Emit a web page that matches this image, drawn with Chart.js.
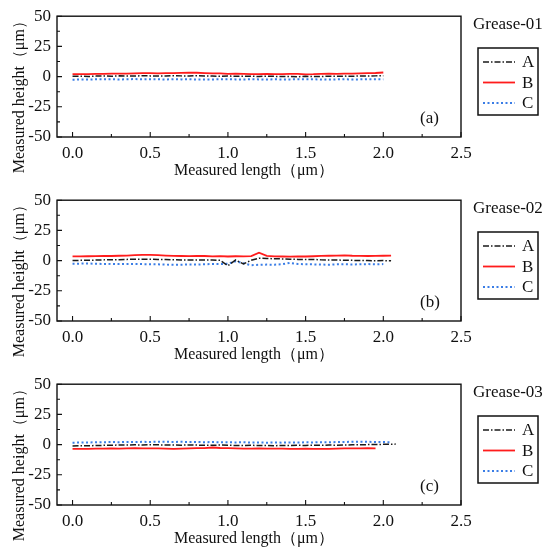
<!DOCTYPE html>
<html lang="en">
  <head>
    <meta charset="UTF-8" />
    <title>Measured height</title>
    <script src="https://cdn.jsdelivr.net/npm/chart.js"></script>
    <style>
      body { margin: 0; background: #fff; }
      .panel { width: 548px; height: 184px; }
    </style>
  </head>
  <body>
    <div class="panel"><canvas id="c1" width="548" height="184"></canvas></div>
    <div class="panel"><canvas id="c2" width="548" height="184"></canvas></div>
    <div class="panel"><canvas id="c3" width="548" height="184"></canvas></div>

    <script>
      // measured length positions (um)
      const lengths = [0, 0.05, 0.1, 0.15, 0.2, 0.25, 0.3, 0.35, 0.4, 0.45, 0.5, 0.55, 0.6, 0.65, 0.7, 0.75,
        0.8, 0.85, 0.9, 0.95, 1.0, 1.05, 1.1, 1.15, 1.2, 1.25, 1.3, 1.35, 1.4, 1.45, 1.5, 1.55,
        1.6, 1.65, 1.7, 1.75, 1.8, 1.85, 1.9, 1.95, 2.0, 2.05, 2.08];

      const xTicks = [0, 0.5, 1.0, 1.5, 2.0, 2.5];
      const yTicks = [-50, -25, 0, 25, 50];
      const seriesNames = ["A", "B", "C"];
      const panelNames = ["Grease-01", "Grease-02", "Grease-03"];
      const panelTags = ["(a)", "(b)", "(c)"];

      // Grease-01
      const g1A = [0.2, 0.3, 0.1, 0.4, 0.5, 0.3, 0.6, 0.4, 0.5, 0.7, 0.6, 0.4, 0.5, 0.8, 0.6, 0.5, 0.7, 0.6, 0.4, 0.3,
        0.5, 0.2, 0.4, 0.3, 0.1, 0.3, 0.2, 0.0, 0.1, -0.1, 0.2, 0.0, 0.1, 0.3, 0.2, 0.4, 0.3, 0.5, 0.4, 0.6, 0.8];
      const g1B = [2.0, 2.1, 2.0, 2.3, 2.2, 2.4, 2.5, 2.4, 2.6, 2.8, 2.9, 2.7, 2.8, 2.9, 3.1, 3.3, 3.2, 2.9, 2.7, 2.6,
        2.3, 2.4, 2.2, 2.1, 2.0, 2.2, 2.1, 2.0, 2.2, 2.3, 1.9, 2.0, 2.3, 2.4, 2.2, 2.5, 2.4, 2.6, 2.8, 3.0, 3.4];
      const g1C = [-2.6, -2.4, -2.5, -2.2, -2.3, -2.1, -2.4, -2.2, -2.0, -2.3, -2.1, -2.2, -2.4, -2.1, -2.3, -2.2,
        -2.5, -2.3, -2.4, -2.2, -2.1, -2.3, -2.4, -2.2, -2.3, -2.5, -2.2, -2.4, -2.3, -2.1, -2.3, -2.2, -2.4, -2.5,
        -2.3, -2.2, -2.4, -2.3, -2.1, -2.2, -2.3];

      // Grease-02
      const g2A = [0.0, 0.2, 0.3, 0.4, 0.6, 0.7, 0.8, 1.0, 1.1, 1.2, 1.1, 1.0, 0.9, 0.7, 0.6, 0.5, 0.6, 0.4, 0.5, 0.2,
        -4.2, 0.5, -2.8, 0.3, 2.0, 1.8, 1.5, 1.4, 1.2, 1.0, 0.9, 1.0, 0.6, 0.4, 0.5, 0.3, 0.2, 0.1, 0.0, -0.1, 0.0, -0.2];
      const g2B = [3.5, 3.5, 3.6, 3.7, 3.8, 3.8, 4.0, 4.2, 4.6, 4.8, 4.7, 4.6, 4.2, 3.9, 3.8, 3.7, 3.9, 3.8, 3.5, 3.7,
        3.4, 3.6, 3.5, 3.7, 6.6, 3.9, 3.5, 3.4, 3.3, 3.5, 3.4, 3.6, 3.9, 4.0, 4.1, 4.3, 4.0, 3.9, 3.8, 3.9, 4.0, 4.1];
      const g2C = [-2.6, -2.5, -2.4, -2.6, -2.8, -2.7, -2.9, -2.8, -2.7, -2.9, -3.0, -3.1, -3.3, -3.5, -3.4, -3.2,
        -3.3, -3.0, -2.8, -2.9, -2.6, -0.6, -2.2, -3.8, -3.5, -3.3, -3.4, -3.0, -1.9, -2.8, -3.0, -3.1, -3.3, -3.4,
        -3.1, -3.0, -3.2, -3.0, -2.9, -3.1, -2.9];

      // Grease-03
      const g3A = [-1.2, -1.0, -0.9, -0.8, -0.6, -0.5, -0.4, -0.3, -0.2, -0.3, -0.1, -0.2, -0.3, -0.4, -0.5, -0.3,
        -0.4, -0.6, -0.5, -0.4, -0.5, -0.7, -0.8, -0.6, -0.7, -0.8, -0.9, -0.7, -0.8, -0.6, -0.7, -0.5, -0.6, -0.4,
        -0.5, -0.3, -0.2, -0.1, 0.0, 0.1, 0.2, 0.3, 0.4];
      const g3B = [-3.6, -3.5, -3.6, -3.4, -3.3, -3.2, -3.3, -3.1, -3.0, -3.2, -3.1, -3.2, -3.4, -3.5, -3.3, -3.2,
        -3.0, -2.9, -2.4, -2.8, -3.0, -3.1, -3.3, -3.4, -3.2, -3.3, -3.4, -3.3, -3.5, -3.6, -3.4, -3.5, -3.6, -3.5,
        -3.3, -3.2, -3.1, -3.2, -3.0, -3.1];
      const g3C = [1.6, 1.7, 1.8, 1.9, 2.0, 2.1, 2.0, 2.2, 2.1, 2.3, 2.2, 2.4, 2.3, 2.2, 2.3, 2.1, 2.2, 2.0, 2.1, 2.0,
        1.9, 1.8, 1.9, 1.7, 1.8, 1.6, 1.7, 1.6, 1.8, 1.7, 1.9, 1.8, 2.0, 1.9, 2.1, 2.2, 2.3, 2.4, 2.3, 2.2, 2.1, 2.0];

      const panels = [[g1A, g1B, g1C], [g2A, g2B, g2C], [g3A, g3B, g3C]];

      const serif = "'Liberation Serif', 'Times New Roman', serif";
      const styles = [
        { borderColor: "#1a1a1a", borderWidth: 1.5, borderDash: [6, 2, 1.5, 2] },
        { borderColor: "#ff1c1c", borderWidth: 1.8, borderDash: [] },
        { borderColor: "#3a7de6", borderWidth: 2, borderDash: [2, 2.5] },
      ];

      const toPoints = (ys) => ys.map((v, i) => ({ x: lengths[i], y: v }));

      // frame, inward ticks, axis titles, boxed legend and panel labels
      const framePlugin = {
        id: "frame",
        afterDraw(chart, args, opts) {
          const { ctx, chartArea: a } = chart;
          const sx = chart.scales.x, sy = chart.scales.y;
          ctx.save();
          ctx.strokeStyle = "#111";
          ctx.lineWidth = 1.4;
          ctx.setLineDash([]);
          ctx.strokeRect(a.left, a.top, a.right - a.left, a.bottom - a.top);

          ctx.lineWidth = 1.1;
          ctx.beginPath();
          for (let i = 0; i < xTicks.length; i++) {
            const px = sx.getPixelForValue(xTicks[i]);
            ctx.moveTo(px, a.bottom); ctx.lineTo(px, a.bottom - 5);
            if (i < xTicks.length - 1) {
              const mx = sx.getPixelForValue((xTicks[i] + xTicks[i + 1]) / 2);
              ctx.moveTo(mx, a.bottom); ctx.lineTo(mx, a.bottom - 3);
            }
          }
          for (let i = 0; i < yTicks.length; i++) {
            const py = sy.getPixelForValue(yTicks[i]);
            ctx.moveTo(a.left, py); ctx.lineTo(a.left + 5, py);
            if (i < yTicks.length - 1) {
              const my = sy.getPixelForValue((yTicks[i] + yTicks[i + 1]) / 2);
              ctx.moveTo(a.left, my); ctx.lineTo(a.left + 3, my);
            }
          }
          ctx.stroke();

          ctx.fillStyle = "#111";
          ctx.font = "16px " + serif;
          ctx.textAlign = "center";
          ctx.textBaseline = "middle";
          ctx.fillText("Measured length\uFF08\u03BCm\uFF09", (a.left + a.right) / 2 - 5, a.bottom + 34);
          ctx.save();
          ctx.translate(20, a.top + 77);
          ctx.rotate(-Math.PI / 2);
          ctx.fillText("Measured height\uFF08\u03BCm\uFF09", 0, 0);
          ctx.restore();

          ctx.font = "17px " + serif;
          ctx.textAlign = "left";
          ctx.fillText(opts.name, 473, 25);
          ctx.fillText(opts.tag, a.right - 41, a.top + 102);

          // legend box
          ctx.lineWidth = 1.5;
          ctx.strokeRect(478, 48, 60, 67);
          chart.data.datasets.forEach((ds, i) => {
            const ly = 62 + i * 20.5;
            ctx.strokeStyle = ds.borderColor;
            ctx.lineWidth = ds.borderWidth;
            ctx.setLineDash(ds.borderDash || []);
            ctx.beginPath();
            ctx.moveTo(483, ly); ctx.lineTo(515, ly);
            ctx.stroke();
            ctx.setLineDash([]);
            ctx.fillStyle = "#111";
            ctx.fillText(ds.label, 522, ly + 1);
          });
          ctx.restore();
        },
      };

      panels.forEach((series, p) => {
        new Chart(document.getElementById("c" + (p + 1)), {
          type: "line",
          data: {
            datasets: series.map((ys, i) => ({
              label: seriesNames[i],
              data: toPoints(ys),
              borderColor: styles[i].borderColor,
              borderWidth: styles[i].borderWidth,
              borderDash: styles[i].borderDash,
              pointRadius: 0,
              fill: false,
              tension: 0,
            })),
          },
          options: {
            responsive: false,
            animation: false,
            layout: { padding: { left: 0, top: 13, right: 87, bottom: 0 } },
            plugins: {
              legend: { display: false },
              tooltip: { enabled: false },
              frame: { name: panelNames[p], tag: panelTags[p] },
            },
            scales: {
              x: {
                type: "linear",
                min: -0.1,
                max: 2.5,
                afterBuildTicks: (s) => { s.ticks = xTicks.map((v) => ({ value: v })); },
                afterFit: (s) => { s.height = 47; },
                grid: { display: false, drawTicks: false },
                border: { display: false },
                ticks: {
                  padding: 6,
                  color: "#111",
                  font: { family: serif, size: 17 },
                  callback: (v) => Number(v).toFixed(1),
                },
              },
              y: {
                min: -50,
                max: 50,
                afterBuildTicks: (s) => { s.ticks = yTicks.map((v) => ({ value: v })); },
                afterFit: (s) => { s.width = 57; },
                grid: { display: false, drawTicks: false },
                border: { display: false },
                ticks: {
                  padding: 6,
                  color: "#111",
                  font: { family: serif, size: 17 },
                },
              },
            },
          },
          plugins: [framePlugin],
        });
      });
    </script>
  </body>
</html>
